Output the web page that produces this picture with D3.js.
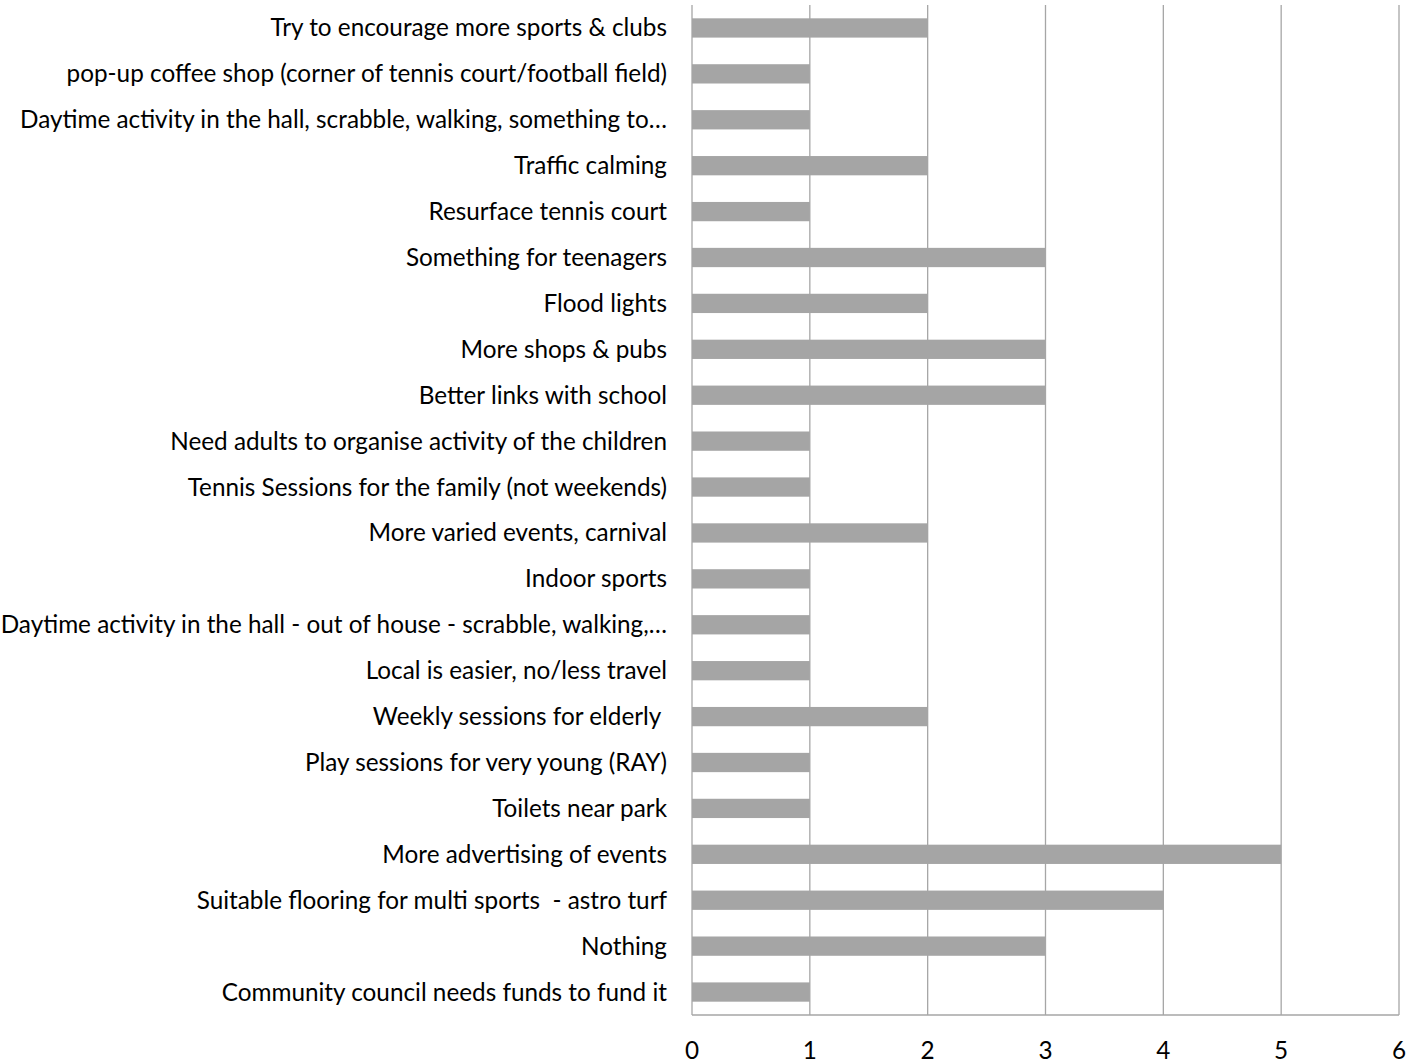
<!DOCTYPE html>
<html>
<head>
<meta charset="utf-8">
<script src="https://cdn.jsdelivr.net/npm/d3@7"></script>
<style>
  body { margin: 0; background: #fff; }
  text { font-family: Lato, "Open Sans", sans-serif; fill: #000; white-space: pre; }
</style>
</head>
<body>
<svg id="chart" width="1424" height="1063"></svg>
<script>
// categories, top to bottom as they appear
var categories = [
  "Try to encourage more sports & clubs",
  "pop-up coffee shop (corner of tennis court/football field)",
  "Daytime activity in the hall, scrabble, walking, something to…",
  "Traffic calming",
  "Resurface tennis court",
  "Something for teenagers",
  "Flood lights",
  "More shops & pubs",
  "Better links with school",
  "Need adults to organise activity of the children",
  "Tennis Sessions for the family (not weekends)",
  "More varied events, carnival",
  "Indoor sports",
  "Daytime activity in the hall - out of house - scrabble, walking,…",
  "Local is easier, no/less travel",
  "Weekly sessions for elderly ",
  "Play sessions for very young (RAY)",
  "Toilets near park",
  "More advertising of events",
  "Suitable flooring for multi sports  - astro turf",
  "Nothing",
  "Community council needs funds to fund it"
];
var counts = [2, 1, 1, 2, 1, 3, 2, 3, 3, 1, 1, 2, 1, 1, 1, 2, 1, 1, 5, 4, 3, 1];
var xTicks = [0, 1, 2, 3, 4, 5, 6];

var svg = d3.select("#chart");
var plotLeft = 692, plotRight = 1399, plotTop = 5, plotBottom = 1015;

var x = d3.scaleLinear().domain([0, 6]).range([plotLeft, plotRight]);
var y = d3.scaleBand().domain(categories).range([plotTop, plotBottom]).paddingInner(0.58).paddingOuter(0.29);

// gridlines
svg.selectAll(".grid")
  .data(xTicks.slice(1))
  .enter()
    .append("line")
      .attr("x1", function(d) { return x(d); })
      .attr("x2", function(d) { return x(d); })
      .attr("y1", plotTop)
      .attr("y2", plotBottom)
      .attr("stroke", "#a6a6a6")
      .attr("stroke-width", 1.3);

// bars
svg.selectAll(".bar")
  .data(counts)
  .enter()
    .append("rect")
      .attr("x", x(0))
      .attr("y", function(d, i) { return y(categories[i]); })
      .attr("width", function(d) { return x(d) - x(0); })
      .attr("height", y.bandwidth())
      .attr("fill", "#a5a5a5");

// axis lines
svg.append("line")
  .attr("x1", plotLeft).attr("x2", plotLeft)
  .attr("y1", plotTop).attr("y2", plotBottom)
  .attr("stroke", "#a6a6a6").attr("stroke-width", 1.3);
svg.append("line")
  .attr("x1", plotLeft).attr("x2", plotRight)
  .attr("y1", plotBottom).attr("y2", plotBottom)
  .attr("stroke", "#a6a6a6").attr("stroke-width", 1.3);

// category labels
svg.selectAll(".cat")
  .data(categories)
  .enter()
    .append("text")
      .attr("x", plotLeft - 25)
      .attr("y", function(d) { return y(d) + y.bandwidth() / 2; })
      .attr("dy", "0.35em")
      .attr("text-anchor", "end")
      .style("font-size", "24.3px")
      .text(function(d) { return d; });

// tick labels
svg.selectAll(".tick-label")
  .data(xTicks)
  .enter()
    .append("text")
      .attr("x", function(d) { return x(d); })
      .attr("y", 1050)
      .attr("dy", "0.35em")
      .attr("text-anchor", "middle")
      .style("font-size", "24.3px")
      .text(function(d) { return d; });
</script>
</body>
</html>
